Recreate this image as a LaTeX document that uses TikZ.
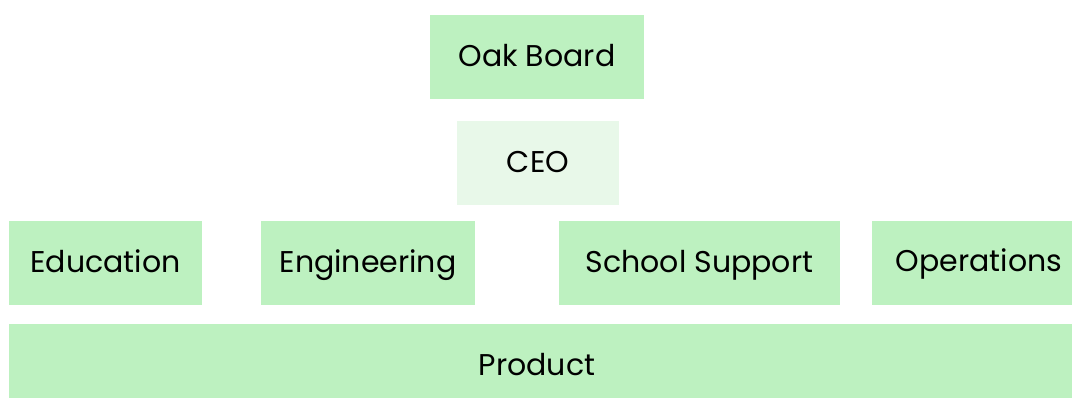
\documentclass[tikz,border=0pt]{standalone}
\usepackage{fontspec}
\setmainfont{Poppins}
\definecolor{boxgreen}{HTML}{BDF1C0}
\definecolor{lightgreen}{HTML}{E8F8E9}
\begin{document}
\begin{tikzpicture}[x=1pt,y=-1pt,
  unit/.style={fill=boxgreen,draw=none,inner sep=0pt,text height=20pt,text depth=0pt,font=\fontsize{30}{36}\selectfont},
  lead/.style={unit,fill=lightgreen},
  label/.style={inner sep=0pt,text height=20pt,text depth=0pt,font=\fontsize{30}{36}\selectfont}]
\useasboundingbox (0,0) rectangle (1072,398);
\fill[white] (0,0) rectangle (1072,398);
\node[unit,minimum width=214pt,minimum height=84pt] (oak) at (537,57) {Oak Board};
\node[lead,minimum width=162pt,minimum height=84pt] (ceo) at (538,163) {CEO};
\node[unit,minimum width=193pt,minimum height=84pt] (edu) at (105.5,263) {Education};
\node[unit,minimum width=214pt,minimum height=84pt] (eng) at (368,263) {Engineering};
\node[unit,minimum width=281pt,minimum height=84pt] (sch) at (699.5,263) {School Support};
\fill[boxgreen] (872,221) rectangle (1072,305);
\node[label] (ops) at (979,262) {Operations};
\fill[boxgreen] (9,324) rectangle (1072,398);
\node[label] (prod) at (537,366) {Product};
\end{tikzpicture}
\end{document}
